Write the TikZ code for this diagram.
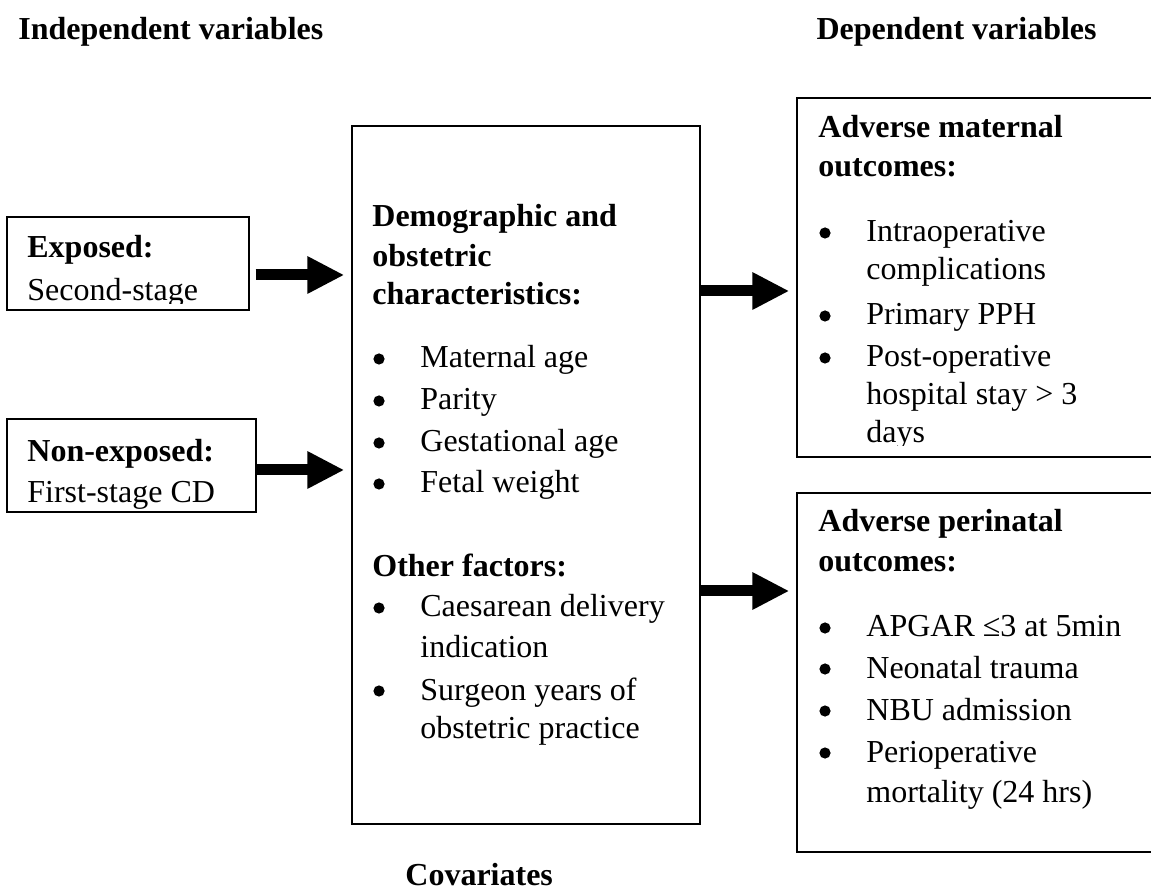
\documentclass[tikz,border=0pt]{standalone}
\usepackage{fontspec}
\setmainfont{Liberation Serif}
\usetikzlibrary{arrows.meta}
\tikzset{
  box/.style={draw, line width=0.7pt, inner sep=0pt},
  txt/.style={anchor=base west, inner sep=0pt, font=\fontsize{16pt}{19pt}\selectfont},
  btxt/.style={anchor=base west, inner sep=0pt, font=\fontsize{16pt}{19pt}\selectfont\bfseries},
  bul/.style={circle, fill, inner sep=0pt, minimum size=5.6pt},
  bigarrow/.style={line width=5.5pt, -{Triangle[length=18.5pt,width=17.5pt]}},
}
\begin{document}
\begin{tikzpicture}[x=0.5pt,y=-0.5pt]
\useasboundingbox (0,0) rectangle (1151,892);
\clip (0,0) rectangle (1151,892);

% headers
\node[btxt] (h1) at (18,40) {Independent variables};
\node[btxt, anchor=base east] (h2) at (1097,40) {Dependent variables};
\node[btxt] (cov) at (405,885) {Covariates};

% boxes
\node[box, minimum width=121pt, minimum height=46.5pt] (exp) at (128,263.5) {};
\node[box, minimum width=124.5pt, minimum height=46.5pt] (nonexp) at (131.5,465.5) {};
\node[box, minimum width=174pt, minimum height=349pt] (central) at (526,475) {};
\node[box, minimum width=184pt, minimum height=179.5pt] (maternal) at (981,277.5) {};
\node[box, minimum width=184pt, minimum height=179.5pt] (perinatal) at (981,672.5) {};

% exposed
\begin{scope}
\clip (7,217) rectangle (249,304);
\node[btxt] (e1) at (27,258) {Exposed:};
\node[txt] (e2) at (27,301) {Second-stage};
\end{scope}

% non-exposed
\node[btxt] (n1) at (27,462) {Non-exposed:};
\node[txt] (n2) at (27,503) {First-stage CD};

% central
\node[btxt] (c1) at (372,227) {Demographic and};
\node[btxt] (c2) at (372,267) {obstetric};
\node[btxt] (c3) at (372,305) {characteristics:};
\node[txt] (c4) at (420,368) {Maternal age};
\node[txt] (c5) at (420,410) {Parity};
\node[txt] (c6) at (420,452) {Gestational age};
\node[txt] (c7) at (420,493) {Fetal weight};
\node[btxt] (c8) at (372,577) {Other factors:};
\node[txt] (c9) at (420,617) {Caesarean delivery};
\node[txt] (c10) at (420,657) {indication};
\node[txt] (c11) at (420,700) {Surgeon years of};
\node[txt] (c12) at (420,738) {obstetric practice};
\node[bul] (cb1) at (379,359) {};
\node[bul] (cb2) at (379,401) {};
\node[bul] (cb3) at (379,443) {};
\node[bul] (cb4) at (379,484) {};
\node[bul] (cb5) at (379,608) {};
\node[bul] (cb6) at (379,691) {};

% maternal
\begin{scope}
\clip (797,98) rectangle (1151,446);
\node[btxt] (m1) at (818,138) {Adverse maternal};
\node[btxt] (m2) at (818,177) {outcomes:};
\node[txt] (m3) at (866,242) {Intraoperative};
\node[txt] (m4) at (866,280) {complications};
\node[txt] (m5) at (866,325) {Primary PPH};
\node[txt] (m6) at (866,367) {Post-operative};
\node[txt] (m7) at (866,405) {hospital stay > 3};
\node[txt] (m8) at (866,443) {days};
\end{scope}
\node[bul] (mb1) at (825,233) {};
\node[bul] (mb2) at (825,316) {};
\node[bul] (mb3) at (825,358) {};

% perinatal
\node[btxt] (p1) at (818,532) {Adverse perinatal};
\node[btxt] (p2) at (818,572) {outcomes:};
\node[txt] (p3) at (866,637) {APGAR ≤3 at 5min};
\node[txt] (p4) at (866,678) {Neonatal trauma};
\node[txt] (p5) at (866,720) {NBU admission};
\node[txt] (p6) at (866,762) {Perioperative};
\node[txt] (p7) at (866,802) {mortality (24 hrs)};
\node[bul] (pb1) at (825,628) {};
\node[bul] (pb2) at (825,669) {};
\node[bul] (pb3) at (825,711) {};
\node[bul] (pb4) at (825,753) {};

% arrows
\coordinate (a1s) at ([xshift=3pt,yshift=-5.75pt]exp.east);
\coordinate (a2s) at ([yshift=-2.25pt]nonexp.east);
\coordinate (a3s) at ([yshift=92pt]central.east);
\coordinate (a4s) at ([yshift=-58pt]central.east);
\draw[bigarrow] (a1s) -- ([xshift=-3.5pt]central.west |- a1s);
\draw[bigarrow] (a2s) -- ([xshift=-3.5pt]central.west |- a2s);
\draw[bigarrow] (a3s) -- ([xshift=-3.5pt]maternal.west |- a3s);
\draw[bigarrow] (a4s) -- ([xshift=-3.5pt]perinatal.west |- a4s);
\end{tikzpicture}
\end{document}
